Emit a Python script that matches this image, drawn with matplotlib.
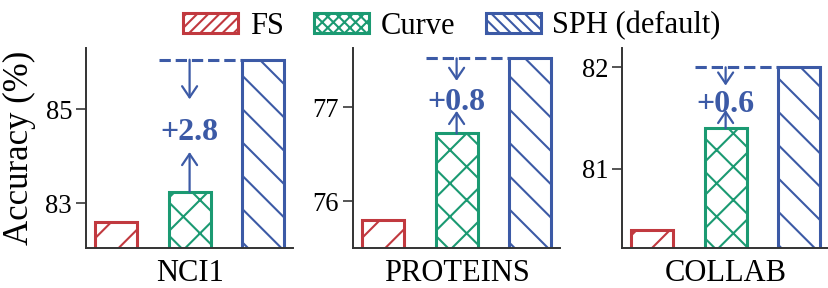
import matplotlib
matplotlib.use('Agg')
import matplotlib.pyplot as plt
from matplotlib.patches import Patch

plt.rcParams['font.family'] = ['Liberation Serif', 'DejaVu Serif']
plt.rcParams['hatch.linewidth'] = 1.5

# data
datasets = ['NCI1', 'PROTEINS', 'COLLAB']
methods = ['FS', 'Curve', 'SPH (default)']
fs_acc = [82.6, 75.8, 80.4]
curve_acc = [83.25, 76.72, 81.4]
sph_acc = [86.05, 77.52, 82.0]
y_limits = [(82.05, 86.3), (75.5, 77.63), (80.22, 82.19)]
y_ticks = [[83, 85], [76, 77], [81, 82]]

colors = ['#C1393F', '#1B9A72', '#3C5AA6']
hatches = ['/', 'x', '\\']
blue = colors[2]

fig = plt.figure(figsize=(8.29, 2.88), dpi=100)
lefts = [0.1037, 0.4258, 0.7503]
width = 0.57

for i, name in enumerate(datasets):
    ax = fig.add_axes([lefts[i], 0.1389, 0.25, 0.6944])
    vals = [fs_acc[i], curve_acc[i], sph_acc[i]]
    for j in range(3):
        ax.bar(j, vals[j], width=width, color='white', edgecolor=colors[j],
               hatch=hatches[j], lw=2.2, zorder=2)

    ax.set_xlim(-0.41, 2.41)
    ax.set_ylim(y_limits[i])
    ax.set_yticks(y_ticks[i])
    ax.set_xticks([1])
    ax.set_xticklabels([name])
    ax.tick_params(axis='x', length=0, pad=8, labelsize=22)
    ax.tick_params(axis='y', length=7.2, width=1.4, pad=2.8, labelsize=19.2,
                   color='#555555')
    for s in ['top', 'right']:
        ax.spines[s].set_visible(False)
    for s in ['left', 'bottom']:
        ax.spines[s].set_linewidth(1.4)
        ax.spines[s].set_color('#333333')

    # gain of SPH over Curve
    top = sph_acc[i]
    low = curve_acc[i]
    d = top - low
    ax.plot([0.58, 2 - width / 2], [top, top], ls='--', color=blue, lw=2.2,
            zorder=1)
    aprops = dict(arrowstyle='->,head_length=0.4,head_width=0.27', lw=1.6,
                  color=blue, shrinkA=0, shrinkB=0, mutation_scale=20)
    ax.annotate('', xy=(1, top - 0.3 * d), xytext=(1, top), arrowprops=aprops)
    ax.annotate('', xy=(1, low + 0.3 * d), xytext=(1, low), arrowprops=aprops)
    ax.annotate(f'+{d:.1f}', xy=(1, (top + low) / 2), xytext=(0, -5),
                textcoords='offset points', ha='center', va='center',
                color=blue, fontweight='bold', fontsize=23)

    if i == 0:
        ax.set_ylabel('Accuracy (%)', fontsize=25, labelpad=7)

handles = [Patch(facecolor='white', edgecolor=c, hatch=h * 3, lw=2.2, label=m)
           for c, h, m in zip(colors, hatches, methods)]
fig.legend(handles=handles, loc='center', bbox_to_anchor=(0.545, 0.91),
           ncol=3, frameon=False, fontsize=22, handlelength=1.8,
           handleheight=0.65, handletextpad=0.38, columnspacing=1.0,
           borderaxespad=0, borderpad=0)

fig.savefig('out.png', dpi=100)
